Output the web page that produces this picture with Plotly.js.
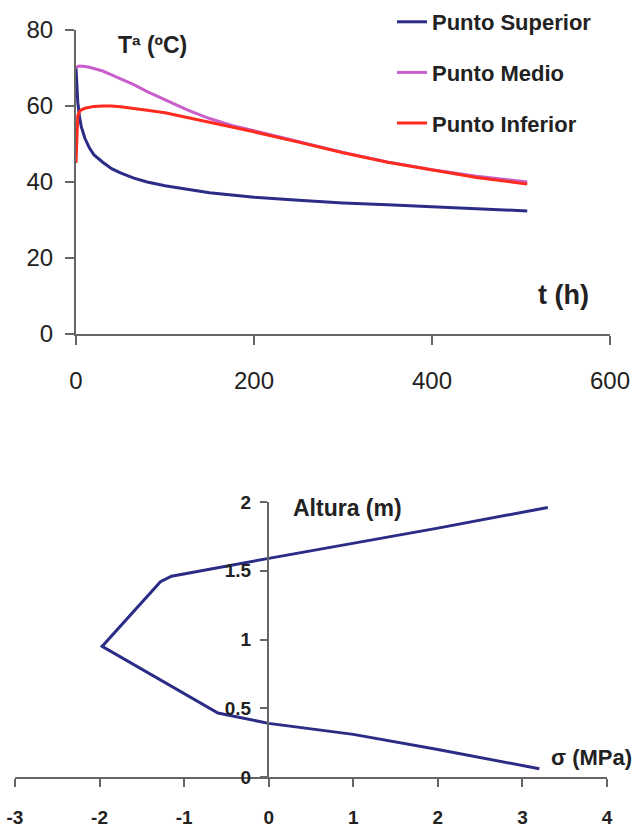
<!DOCTYPE html>
<html>
<head>
<meta charset="utf-8">
<script src="https://cdn.plot.ly/plotly-3.0.1.min.js"></script>
<style>html,body{margin:0;padding:0;background:#fff;}#chart{width:635px;height:829px;}</style>
</head>
<body>
<div id="chart"></div>
<script>
// Top chart: temperature vs time
const tHours = [0, 1, 2, 4, 6, 10, 15, 20, 30, 40, 50, 65, 80, 100, 125, 150, 175, 200, 250, 300, 350, 400, 450, 500, 507];
const puntoSuperior = [70, 65, 61, 57, 54.5, 51.5, 49, 47.2, 45.2, 43.5, 42.4, 41, 40, 39, 38, 37.2, 36.6, 36, 35.2, 34.5, 34, 33.5, 33, 32.5, 32.4];
const puntoMedio = [70, 70.3, 70.4, 70.5, 70.5, 70.4, 70.2, 69.9, 69.2, 68.2, 67.2, 65.6, 63.8, 61.6, 59, 56.7, 54.9, 53.5, 50.6, 47.8, 45.3, 43.2, 41.5, 40.2, 40.0];
const puntoInferior = [45, 55, 57.5, 58.5, 59, 59.4, 59.7, 59.9, 60, 60, 59.8, 59.4, 58.9, 58.2, 57, 55.7, 54.4, 53.2, 50.5, 47.7, 45.2, 43.1, 41.2, 39.7, 39.5];
const seriesNames = ["Punto Superior", "Punto Medio", "Punto Inferior"];

// Bottom chart: stress profile
const sigmaMPa = [3.2, 2, 1, 0, -0.6, -1.97, -1.28, -1.15, 0, 2, 3.3];
const alturaM = [0.06, 0.2, 0.31, 0.39, 0.465, 0.95, 1.42, 1.46, 1.59, 1.81, 1.96];

const xTopTicks = [0, 200, 400, 600];
const yTopTicks = [0, 20, 40, 60, 80];
const xBotTicks = [-3, -2, -1, 0, 1, 2, 3, 4];
const xBotLabels = ["-3", "-2", "-1", "0", "1", "2", "3", "4"];
const yBotTicks = [0, 0.5, 1, 1.5, 2];
const yBotLabels = ["0", "0.5", "1", "1.5", "2"];

const W = 635, H = 829;
const px = v => v / W;
const py = v => 1 - v / H;

const navy = "#2B2C86";
const purple = "#C85FCB";
const red = "#FF2B1E";
const axisCol = "#666666";
const FONT = "Liberation Sans, Arial, sans-serif";

const traces = [
  {x: tHours, y: puntoSuperior, name: seriesNames[0], mode: "lines", line: {color: navy, width: 3}, xaxis: "x", yaxis: "y", legendgroup: "a"},
  {x: tHours, y: puntoMedio, name: seriesNames[1], mode: "lines", line: {color: purple, width: 3}, xaxis: "x", yaxis: "y", legendgroup: "b"},
  {x: tHours, y: puntoInferior, name: seriesNames[2], mode: "lines", line: {color: red, width: 3}, xaxis: "x", yaxis: "y", legendgroup: "c"},
  {x: sigmaMPa, y: alturaM, name: "σ", mode: "lines", line: {color: navy, width: 3}, xaxis: "x2", yaxis: "y2", showlegend: false}
];

const axBase = {
  showline: true, linecolor: axisCol, linewidth: 2,
  ticks: "outside", tickcolor: axisCol, tickwidth: 2,
  showgrid: false, zeroline: false, fixedrange: true
};

const layout = {
  width: W, height: H,
  margin: {l: 0, r: 0, t: 0, b: 0},
  paper_bgcolor: "#fff", plot_bgcolor: "rgba(0,0,0,0)",
  font: {family: FONT, color: "#222"},
  showlegend: true,
  legend: {
    x: px(392), y: py(1), xanchor: "left", yanchor: "top",
    font: {size: 22, family: FONT, color: "#222", weight: "bold"},
    traceorder: "grouped", tracegroupgap: 19, itemwidth: 30,
    bgcolor: "rgba(0,0,0,0)"
  },
  xaxis: Object.assign({}, axBase, {
    domain: [px(76), px(610)], range: [0, 600], anchor: "y",
    tickvals: xTopTicks, ticklen: 9, ticklabelstandoff: 15,
    tickfont: {size: 24, family: FONT, color: "#222"}
  }),
  yaxis: Object.assign({}, axBase, {
    domain: [py(334), py(30)], range: [0, 80], anchor: "x",
    tickvals: yTopTicks, ticklen: 9, ticklabelstandoff: 7,
    tickfont: {size: 24, family: FONT, color: "#222"}
  }),
  xaxis2: Object.assign({}, axBase, {
    domain: [px(15), px(607)], range: [-3, 4], anchor: "y2",
    tickvals: xBotTicks, ticktext: xBotLabels, ticklen: 8, ticklabelstandoff: 14,
    tickfont: {size: 19, family: FONT, color: "#222", weight: "bold"}
  }),
  yaxis2: Object.assign({}, axBase, {
    domain: [py(777), py(502)], range: [0, 2], anchor: "free", position: px(268), overlaying: false,
    tickvals: yBotTicks, ticktext: yBotLabels, ticklen: 7, ticklabelstandoff: 5,
    tickfont: {size: 19, family: FONT, color: "#222", weight: "bold"}
  }),
  annotations: [
    {xref: "paper", yref: "paper", x: px(116), y: py(45), xanchor: "left", yanchor: "middle", showarrow: false,
     text: "Tª (ºC)", font: {size: 23, family: FONT, color: "#222", weight: "bold"}},
    {xref: "paper", yref: "paper", x: px(591), y: py(295), xanchor: "right", yanchor: "middle", showarrow: false,
     text: "t (h)", font: {size: 27, family: FONT, color: "#222", weight: "bold"}},
    {xref: "paper", yref: "paper", x: px(291), y: py(508), xanchor: "left", yanchor: "middle", showarrow: false,
     text: "Altura (m)", font: {size: 23, family: FONT, color: "#222", weight: "bold"}},
    {xref: "paper", yref: "paper", x: px(634), y: py(757), xanchor: "right", yanchor: "middle", showarrow: false,
     text: "σ (MPa)", font: {size: 22, family: FONT, color: "#222", weight: "bold"}}
  ]
};

Plotly.newPlot("chart", traces, layout, {staticPlot: true, displayModeBar: false});
</script>
</body>
</html>
